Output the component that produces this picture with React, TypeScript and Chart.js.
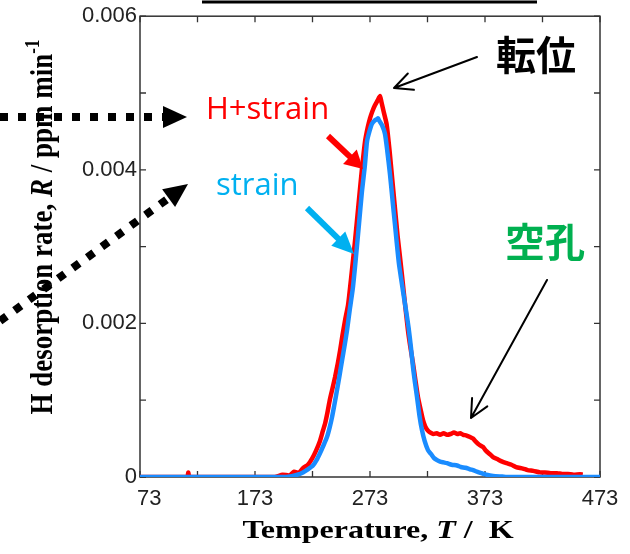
import React, { useEffect, useRef } from 'react';
import { Chart, registerables } from 'chart.js';

Chart.register(...registerables);

// ---- axis definitions ----
const xMin = 73;
const xMax = 473;
const xTickValues = [73, 173, 273, 373, 473];
const xTickLabels = ['   73', '173', '273', '373', '473'];
const xMinorTicks = [73, 123, 173, 223, 273, 323, 373, 423, 473];
const yMin = 0;
const yMax = 6; // in units of 0.001 ppm/min
const yTickValues = [0, 2, 4, 6];
const yTickLabels = ['0', '0.002', '0.004', '0.006'];
const yMinorTicks = [0, 1, 2, 3, 4, 5, 6];

// ---- series (temperature K, rate in 1e-3 ppm/min) ----
const redT = [73, 100, 114, 115, 116, 150, 190, 197, 203, 207, 211, 215, 219, 223, 226, 229.5, 232, 234, 236, 238, 240, 242.6, 245, 247, 249, 251.3, 254, 257, 260, 263, 266, 268.7, 271, 273, 275, 277.3, 279.5, 281.7, 283, 285, 287.5, 290, 291.9, 294.7, 297, 299.1, 301, 303.4, 306, 308, 310.4, 312.5, 314.7, 317, 319.1, 321, 323, 325.2, 328, 331, 334, 337, 340, 343, 346, 349, 351.3, 354, 357, 360, 362.6, 365, 368, 371.3, 374, 377, 380, 384, 388, 392, 396, 400, 406, 410, 415, 420.8, 425, 430, 435.6, 440, 445, 450, 455.6, 458];
const redR = [0, 0, 0, 0.06, 0, 0, 0, 0.03, 0.02, 0.07, 0.05, 0.12, 0.16, 0.25, 0.34, 0.47, 0.6, 0.7, 0.84, 1.0, 1.13, 1.3, 1.48, 1.65, 1.84, 2.04, 2.25, 2.65, 3.08, 3.55, 4.01, 4.37, 4.55, 4.67, 4.76, 4.84, 4.9, 4.96, 4.88, 4.75, 4.59, 4.25, 3.95, 3.5, 3.14, 2.86, 2.6, 2.26, 1.91, 1.7, 1.48, 1.26, 1.04, 0.88, 0.74, 0.66, 0.61, 0.58, 0.56, 0.57, 0.55, 0.57, 0.55, 0.56, 0.58, 0.56, 0.57, 0.55, 0.54, 0.52, 0.5, 0.46, 0.42, 0.39, 0.34, 0.3, 0.26, 0.23, 0.2, 0.18, 0.16, 0.13, 0.11, 0.09, 0.08, 0.06, 0.06, 0.05, 0.05, 0.04, 0.04, 0.03, 0.035, 0.03];

const blueT = [73, 200, 205, 210, 214.7, 219, 223.4, 226.5, 229.5, 232.5, 235.6, 238, 240, 242, 244.3, 246.5, 248.7, 251, 253, 255.6, 258, 260.5, 263.4, 266, 268.5, 270.4, 272.5, 274.7, 277, 279, 280, 281, 283.5, 286, 288, 290.4, 292.5, 294.7, 298, 301.7, 304, 306.5, 308.5, 310.4, 312, 313.9, 316, 318.2, 320.5, 323.4, 326, 328.5, 331.3, 334, 337, 340, 344, 348.7, 352, 356, 360, 362.6, 366, 370, 374, 377.3, 382, 388, 392, 473];
const blueR = [0, 0, 0.01, 0.03, 0.06, 0.1, 0.15, 0.22, 0.31, 0.41, 0.52, 0.65, 0.78, 0.94, 1.13, 1.32, 1.52, 1.72, 1.91, 2.2, 2.45, 2.82, 3.29, 3.72, 4.05, 4.37, 4.5, 4.6, 4.64, 4.66, 4.67, 4.64, 4.58, 4.47, 4.25, 3.94, 3.62, 3.29, 2.8, 2.42, 2.2, 1.95, 1.7, 1.43, 1.24, 1.04, 0.8, 0.61, 0.47, 0.35, 0.3, 0.25, 0.22, 0.2, 0.19, 0.18, 0.16, 0.15, 0.13, 0.12, 0.1, 0.09, 0.07, 0.05, 0.03, 0.02, 0.01, 0.005, 0, 0];

const RED = '#ff0000';
const BLUE = '#1a8cff';
const LIGHTBLUE = '#00b0f0';
const GREEN = '#00b050';

function filledArrow(ctx: CanvasRenderingContext2D, x1: number, y1: number, x2: number, y2: number, color: string, lw: number, headLen: number, headW: number) {
  const ang = Math.atan2(y2 - y1, x2 - x1);
  const bx = x2 - headLen * Math.cos(ang);
  const by = y2 - headLen * Math.sin(ang);
  ctx.strokeStyle = color;
  ctx.lineWidth = lw;
  ctx.lineCap = 'butt';
  ctx.setLineDash([]);
  ctx.beginPath();
  ctx.moveTo(x1, y1);
  ctx.lineTo(bx + Math.cos(ang), by + Math.sin(ang));
  ctx.stroke();
  ctx.fillStyle = color;
  ctx.beginPath();
  ctx.moveTo(x2, y2);
  ctx.lineTo(bx + (headW / 2) * Math.sin(ang), by - (headW / 2) * Math.cos(ang));
  ctx.lineTo(bx - (headW / 2) * Math.sin(ang), by + (headW / 2) * Math.cos(ang));
  ctx.closePath();
  ctx.fill();
}

function openArrow(ctx: CanvasRenderingContext2D, x1: number, y1: number, x2: number, y2: number, color: string, lw: number, armLen: number, spread: number) {
  const ang = Math.atan2(y2 - y1, x2 - x1);
  ctx.strokeStyle = color;
  ctx.lineWidth = lw;
  ctx.lineCap = 'round';
  ctx.lineJoin = 'round';
  ctx.setLineDash([]);
  ctx.beginPath();
  ctx.moveTo(x1, y1);
  ctx.lineTo(x2, y2);
  ctx.moveTo(x2 - armLen * Math.cos(ang - spread), y2 - armLen * Math.sin(ang - spread));
  ctx.lineTo(x2, y2);
  ctx.lineTo(x2 - armLen * Math.cos(ang + spread), y2 - armLen * Math.sin(ang + spread));
  ctx.stroke();
}

function dottedArrow(ctx: CanvasRenderingContext2D, x1: number, y1: number, x2: number, y2: number, headLen: number, headW: number) {
  const ang = Math.atan2(y2 - y1, x2 - x1);
  const bx = x2 - headLen * Math.cos(ang);
  const by = y2 - headLen * Math.sin(ang);
  ctx.strokeStyle = '#000';
  ctx.lineWidth = 8;
  ctx.lineCap = 'butt';
  ctx.setLineDash([8, 10]);
  ctx.beginPath();
  ctx.moveTo(x1, y1);
  ctx.lineTo(bx, by);
  ctx.stroke();
  ctx.setLineDash([]);
  ctx.fillStyle = '#000';
  ctx.beginPath();
  ctx.moveTo(x2, y2);
  ctx.lineTo(bx + (headW / 2) * Math.sin(ang), by - (headW / 2) * Math.cos(ang));
  ctx.lineTo(bx - (headW / 2) * Math.sin(ang), by + (headW / 2) * Math.cos(ang));
  ctx.closePath();
  ctx.fill();
}

type Part = { text: string; font: string; dy?: number };

function drawRich(ctx: CanvasRenderingContext2D, parts: Part[]) {
  let total = 0;
  const widths = parts.map((p) => {
    ctx.font = p.font;
    const w = ctx.measureText(p.text).width;
    total += w;
    return w;
  });
  let cx = -total / 2;
  ctx.textAlign = 'left';
  ctx.textBaseline = 'alphabetic';
  parts.forEach((p, i) => {
    ctx.font = p.font;
    ctx.fillText(p.text, cx, p.dy || 0);
    cx += widths[i];
  });
}

const framePlugin = {
  id: 'frame',
  beforeDatasetsDraw(chart: any) {
    const { ctx, chartArea: a, scales } = chart;
    const x = scales.x;
    const y = scales.y;
    ctx.save();
    ctx.strokeStyle = '#333';
    ctx.lineWidth = 1.5;
    ctx.strokeRect(a.left, a.top, a.right - a.left, a.bottom - a.top);
    ctx.lineWidth = 1.3;
    const tl = 6;
    ctx.beginPath();
    for (const v of xMinorTicks) {
      const px = x.getPixelForValue(v);
      ctx.moveTo(px, a.bottom);
      ctx.lineTo(px, a.bottom - tl);
      ctx.moveTo(px, a.top);
      ctx.lineTo(px, a.top + tl);
    }
    for (const v of yMinorTicks) {
      const py = y.getPixelForValue(v);
      ctx.moveTo(a.left, py);
      ctx.lineTo(a.left + tl, py);
      ctx.moveTo(a.right, py);
      ctx.lineTo(a.right - tl, py);
    }
    ctx.stroke();
    ctx.restore();
  },
  afterDraw(chart: any) {
    const { ctx } = chart;
    ctx.save();
    ctx.fillStyle = '#000';

    // x-axis title
    ctx.save();
    ctx.translate(378, 538);
    ctx.scale(1.28, 1);
    drawRich(ctx, [
      { text: 'Temperature, ', font: 'bold 25px "Liberation Serif"' },
      { text: 'T', font: 'italic bold 25px "Liberation Serif"' },
      { text: ' /  K', font: 'bold 25px "Liberation Serif"' },
    ]);
    ctx.restore();

    // y-axis title
    ctx.save();
    ctx.translate(52, 227);
    ctx.rotate(-Math.PI / 2);
    ctx.scale(1, 1.2);
    drawRich(ctx, [
      { text: 'H desorption rate, ', font: 'bold 27px "Liberation Serif"' },
      { text: 'R', font: 'italic bold 27px "Liberation Serif"' },
      { text: ' / ppm min', font: 'bold 27px "Liberation Serif"' },
      { text: '-1', font: 'bold 17px "Liberation Serif"', dy: -11 },
    ]);
    ctx.restore();

    // top line
    ctx.strokeStyle = '#000';
    ctx.lineWidth = 3;
    ctx.setLineDash([]);
    ctx.beginPath();
    ctx.moveTo(202, 2);
    ctx.lineTo(537, 2);
    ctx.stroke();

    // dotted arrows
    dottedArrow(ctx, 0, 117, 187, 117, 24, 22);
    dottedArrow(ctx, 0, 321, 188, 184, 24, 22);

    // series labels
    ctx.textAlign = 'left';
    ctx.textBaseline = 'alphabetic';
    ctx.font = '31px "Open Sans"';
    ctx.fillStyle = RED;
    ctx.fillText('H+strain', 206, 119);
    ctx.fillStyle = LIGHTBLUE;
    ctx.fillText('strain', 216, 195);

    // thick arrows
    filledArrow(ctx, 328, 136, 363, 169, RED, 6, 18, 20);
    filledArrow(ctx, 307, 208, 354, 254, LIGHTBLUE, 6, 22, 20);

    // Japanese labels
    ctx.font = 'bold 40px "Noto Sans CJK JP"';
    ctx.fillStyle = '#000';
    ctx.fillText('転位', 496, 70);
    ctx.fillStyle = GREEN;
    ctx.fillText('空孔', 505, 257);

    // thin arrows
    openArrow(ctx, 477, 57, 394, 88, '#000', 2, 20, 0.45);
    openArrow(ctx, 547, 280, 471, 418, '#000', 2, 20, 0.45);

    ctx.restore();
  },
};

export default function App() {
  const canvasRef = useRef<HTMLCanvasElement | null>(null);

  useEffect(() => {
    const canvas = canvasRef.current;
    if (!canvas) return;
    const chart = new Chart(canvas, {
      type: 'line',
      data: {
        datasets: [
          {
            label: 'strain',
            data: blueT.map((t, i) => ({ x: t, y: blueR[i] })),
            borderColor: BLUE,
            borderWidth: 4.5,
            pointRadius: 0,
            tension: 0.2,
            fill: false,
          },
          {
            label: 'H+strain',
            data: redT.map((t, i) => ({ x: t, y: redR[i] })),
            borderColor: RED,
            borderWidth: 4.5,
            pointRadius: 0,
            tension: 0.2,
            fill: false,
          },
        ],
      },
      options: {
        animation: false,
        responsive: true,
        maintainAspectRatio: false,
        layout: { padding: { left: 0, right: 30, top: 15, bottom: 0 } },
        plugins: { legend: { display: false }, tooltip: { enabled: false } },
        scales: {
          x: {
            type: 'linear',
            min: xMin,
            max: xMax,
            grid: { display: false, drawTicks: false },
            border: { display: false },
            afterBuildTicks: (scale: any) => {
              scale.ticks = xTickValues.map((v) => ({ value: v }));
            },
            afterFit: (scale: any) => {
              scale.height = 77;
            },
            ticks: {
              autoSkip: false,
              maxRotation: 0,
              padding: 9,
              color: '#222',
              font: { family: '"Liberation Sans", Arial, sans-serif', size: 22 },
              callback: (v: any) => {
                const idx = xTickValues.indexOf(Number(v));
                return idx >= 0 ? xTickLabels[idx] : '';
              },
            },
          },
          y: {
            type: 'linear',
            min: yMin,
            max: yMax,
            grid: { display: false, drawTicks: false },
            border: { display: false },
            afterBuildTicks: (scale: any) => {
              scale.ticks = yTickValues.map((v) => ({ value: v }));
            },
            afterFit: (scale: any) => {
              scale.width = 140;
            },
            ticks: {
              autoSkip: false,
              padding: 3,
              color: '#222',
              font: { family: '"Liberation Sans", Arial, sans-serif', size: 22 },
              callback: (v: any) => {
                const idx = yTickValues.indexOf(Number(v));
                return idx >= 0 ? yTickLabels[idx] : '';
              },
            },
          },
        },
      },
      plugins: [framePlugin],
    });
    return () => chart.destroy();
  }, []);

  return (
    <div style={{ position: 'fixed', left: 0, top: 0, width: 630, height: 554, background: '#fff' }}>
      <canvas ref={canvasRef} />
    </div>
  );
}
